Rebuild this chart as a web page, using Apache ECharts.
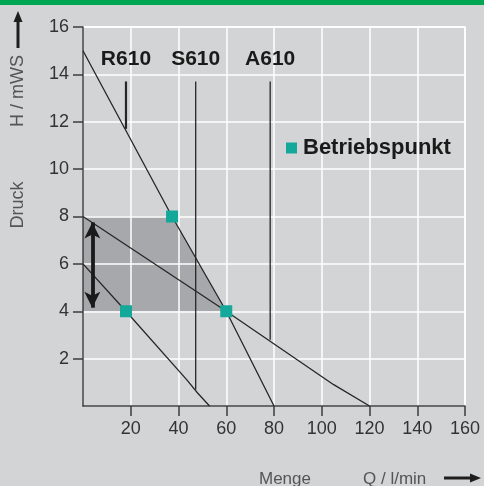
<!DOCTYPE html>
<html><head><meta charset="utf-8">
<script src="https://cdn.jsdelivr.net/npm/echarts@6/dist/echarts.min.js"></script>
<style>html,body{margin:0;padding:0;background:#d3d4d6}#c{width:484px;height:486px}</style>
</head><body><div id="c"></div>
<script>
const xTicks=[20,40,60,80,100,120,140,160];
const yTicks=[2,4,6,8,10,12,14,16];
const curveA=[[0,15],[37.3,8],[60,4],[80,0]];
const curveB=[[0,8],[60,4],[105,0.9],[120,0]];
const curveC=[[0,6],[18,4],[43.5,1.1],[48,0.55],[53,0]];
const betriebspunkte=[[18,4],[37.3,8],[60,4]];
const shadeArea=[[0,8],[37.3,8],[60,4],[0,4]];
const rangeArrow=[[3.9,7.75],[3.9,4.15]];
const models=['R610','S610','A610'];
const modelX=[18,47.2,78.4];
const modelTop=[13.7,13.7,13.7];
const modelBottom=[11.7,0.7,2.8];
const modelWidth=[2.2,1.3,1.3];

const FONT='"Liberation Sans", Arial, sans-serif';
const LINE='#262626';
const chart=echarts.init(document.getElementById('c'));

const series=[];
series.push({
  type:'custom', z:1, silent:true,
  data:[[0,0]],
  renderItem:(params,api)=>({
    type:'polygon',
    shape:{points:shadeArea.map(p=>api.coord(p))},
    style:{fill:'#a7a8ab'}
  })
});
[curveA,curveB,curveC].forEach(c=>series.push({
  type:'line', data:c, symbol:'none', z:3, silent:true,
  lineStyle:{color:LINE,width:1.3}
}));
models.forEach((m,i)=>series.push({
  type:'line', data:[[modelX[i],modelTop[i]],[modelX[i],modelBottom[i]]],
  symbol:'none', z:3, silent:true,
  lineStyle:{color:LINE,width:modelWidth[i]}
}));
series.push({
  type:'scatter', silent:true, z:4,
  data:models.map((m,i)=>[modelX[i],modelTop[i]]),
  symbol:'circle', symbolSize:1, itemStyle:{color:'rgba(0,0,0,0)', opacity:1},
  label:{show:true, position:'top', distance:11,
    formatter:p=>models[p.dataIndex],
    fontFamily:FONT, fontWeight:'bold', fontSize:21, color:'#1a1a1a'}
});
series.push({
  type:'line', data:[], silent:true, z:4,
  markLine:{silent:true, symbol:['arrow','arrow'], symbolSize:[12,16],
    lineStyle:{color:'#1a1a1a', width:3.8, type:'solid'},
    label:{show:false},
    data:[[{coord:rangeArrow[0]},{coord:rangeArrow[1]}]]}
});
series.push({
  name:'Betriebspunkt', type:'scatter', data:betriebspunkte, z:5, silent:true,
  symbol:'rect', symbolSize:12, itemStyle:{color:'#14a89a', opacity:1}
});

const axisCommon={
  type:'value', z:1.5,
  axisLine:{show:true, lineStyle:{color:'#3c3c3c', width:1.5}},
  splitLine:{show:true, lineStyle:{color:'#ffffff', width:1.5}},
};

chart.setOption({
  backgroundColor:'#d3d4d6',
  animation:false,
  grid:{left:83,right:19,top:27,bottom:80,show:true,borderColor:'#ffffff',borderWidth:1.5,backgroundColor:'rgba(0,0,0,0)'},
  legend:{data:['Betriebspunkt'], left:281, top:132, icon:'rect', itemWidth:11, itemHeight:11, itemGap:6,
    selectedMode:false,
    textStyle:{fontFamily:FONT, fontWeight:'bold', fontSize:22, color:'#1a1a1a', padding:[0,0,0,1]}},
  xAxis:Object.assign({}, axisCommon, {
    min:0,max:160,interval:20,
    axisTick:{show:true, length:10, customValues:xTicks, lineStyle:{color:'#3c3c3c', width:1.5}},
    axisLabel:{customValues:xTicks, margin:14, fontSize:18, color:'#333', fontFamily:FONT}
  }),
  yAxis:Object.assign({}, axisCommon, {
    min:0,max:16,interval:2,
    axisTick:{show:true, length:10, customValues:yTicks, lineStyle:{color:'#3c3c3c', width:1.5}},
    axisLabel:{customValues:yTicks, margin:14, fontSize:18, color:'#333', fontFamily:FONT}
  }),
  graphic:[
    {type:'rect', shape:{x:0,y:0,width:484,height:5}, style:{fill:'#00a651'}},
    {type:'text', x:18.5, y:91, rotation:Math.PI/2, style:{text:'H / mWS', fontSize:18, fontFamily:FONT, fill:'#555', align:'center', verticalAlign:'middle'}},
    {type:'text', x:18.5, y:205, rotation:Math.PI/2, style:{text:'Druck', fontSize:18, fontFamily:FONT, fill:'#555', align:'center', verticalAlign:'middle'}},
    {type:'rect', shape:{x:16.5,y:20,width:3,height:28}, style:{fill:'#1e1e1e'}},
    {type:'polygon', shape:{points:[[18,11],[13.5,22],[22.5,22]]}, style:{fill:'#1e1e1e'}},
    {type:'text', x:259, y:479, style:{text:'Menge', fontSize:17, fontFamily:FONT, fill:'#555', align:'left', verticalAlign:'middle'}},
    {type:'text', x:363, y:479, style:{text:'Q / l/min', fontSize:17, fontFamily:FONT, fill:'#555', align:'left', verticalAlign:'middle'}},
    {type:'rect', shape:{x:444,y:476.5,width:28,height:3}, style:{fill:'#1e1e1e'}},
    {type:'polygon', shape:{points:[[481,478],[470,473.5],[470,482.5]]}, style:{fill:'#1e1e1e'}}
  ],
  series:series
});
</script></body></html>
